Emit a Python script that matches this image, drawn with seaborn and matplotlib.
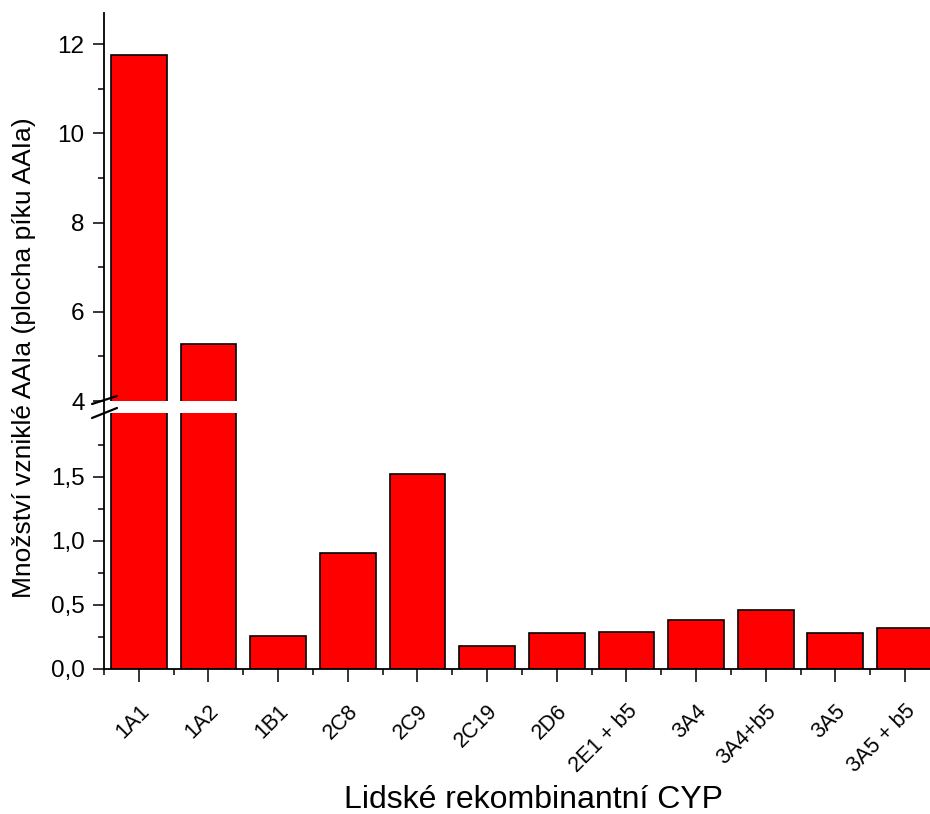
import matplotlib
matplotlib.use("Agg")
import matplotlib.pyplot as plt
from matplotlib.lines import Line2D
from matplotlib.ticker import FixedLocator, FuncFormatter
import seaborn as sns
import pandas as pd

categories = ["1A1", "1A2", "1B1", "2C8", "2C9", "2C19", "2D6", "2E1 + b5",
              "3A4", "3A4+b5", "3A5", "3A5 + b5"]
values = [11.75, 5.28, 0.26, 0.91, 1.52, 0.18, 0.28, 0.29, 0.38, 0.46, 0.285, 0.32]
lower_ticks = [0.0, 0.5, 1.0, 1.5]
upper_ticks = [4, 6, 8, 10, 12]
xlabel = "Lidské rekombinantní CYP"
ylabel = "Množství vzniklé AAIa (plocha píku AAIa)"

sns.set_style("ticks")
plt.rcParams["font.family"] = ["Liberation Sans", "DejaVu Sans"]
plt.rcParams["text.color"] = "black"
plt.rcParams["xtick.color"] = "black"
plt.rcParams["ytick.color"] = "black"
plt.rcParams["axes.edgecolor"] = "black"

df = pd.DataFrame({"cyp": categories, "val": values})

W, H = 930, 814
fig = plt.figure(figsize=(W / 100, H / 100), dpi=100)

def fx(px):
    return px / W

def fy(py):
    return (H - py) / H

left = fx(104)
width = 12 * 69.65 / W
ax_lo = fig.add_axes([left, fy(669), width, 256 / H])
ax_hi = fig.add_axes([left, fy(401), width, 388 / H])

for ax in (ax_lo, ax_hi):
    sns.barplot(data=df, x="cyp", y="val", color="#ff0000", saturation=1,
                edgecolor="black", linewidth=1.2, width=0.8, ax=ax)
    ax.set_xlim(-0.5, 11.5)
    ax.set_xlabel("")
    ax.set_ylabel("")
    for s in ("top", "right"):
        ax.spines[s].set_visible(False)
    ax.spines["left"].set_linewidth(1.3)
    ax.spines["bottom"].set_linewidth(1.3)
    ax.patch.set_alpha(0)

ax_lo.set_ylim(0, 2.0)
ax_hi.set_ylim(4, 12.7)

# lower axes ticks
ax_lo.yaxis.set_major_locator(FixedLocator(lower_ticks))
ax_lo.yaxis.set_minor_locator(FixedLocator([0.25, 0.75, 1.25, 1.75]))
ax_lo.yaxis.set_major_formatter(FuncFormatter(lambda v, p: f"{v:.1f}".replace(".", ",")))
ax_lo.xaxis.set_major_locator(FixedLocator(list(range(12))))
ax_lo.xaxis.set_minor_locator(FixedLocator([i - 0.5 for i in range(13)]))
ax_lo.set_xticklabels(categories, rotation=45, ha="right", rotation_mode="anchor",
                      fontsize=15.5)
ax_lo.tick_params(axis="x", which="major", length=9, width=1.1, pad=14, direction="out")
ax_lo.tick_params(axis="x", which="minor", length=4.5, width=1.1, direction="out")

# upper axes ticks
ax_hi.yaxis.set_major_locator(FixedLocator(upper_ticks))
ax_hi.yaxis.set_minor_locator(FixedLocator([5, 7, 9, 11]))
ax_hi.yaxis.set_major_formatter(FuncFormatter(lambda v, p: f"{int(v)}"))
ax_hi.spines["bottom"].set_visible(False)
ax_hi.tick_params(axis="x", which="both", bottom=False, labelbottom=False)

for ax in (ax_lo, ax_hi):
    ax.tick_params(axis="y", which="major", length=8, width=1.1, labelsize=17.5,
                   direction="out", pad=6)
    ax.tick_params(axis="y", which="minor", length=4, width=1.1, direction="out")

# axis break decorations
fig.add_artist(Line2D([fx(104), fx(104)], [fy(401), fy(413)], color="black",
                      lw=1.3, transform=fig.transFigure))
fig.add_artist(Line2D([fx(92), fx(117)], [fy(404), fy(396)], color="black",
                      lw=1.6, transform=fig.transFigure))
fig.add_artist(Line2D([fx(92), fx(117)], [fy(418), fy(408)], color="black",
                      lw=1.6, transform=fig.transFigure))

fig.text(fx(533), fy(800), xlabel, ha="center", va="center", fontsize=23)
fig.text(fx(24), fy(358), ylabel, ha="center", va="center", rotation=90, fontsize=19)

fig.savefig("out.png", dpi=100, facecolor="white")
